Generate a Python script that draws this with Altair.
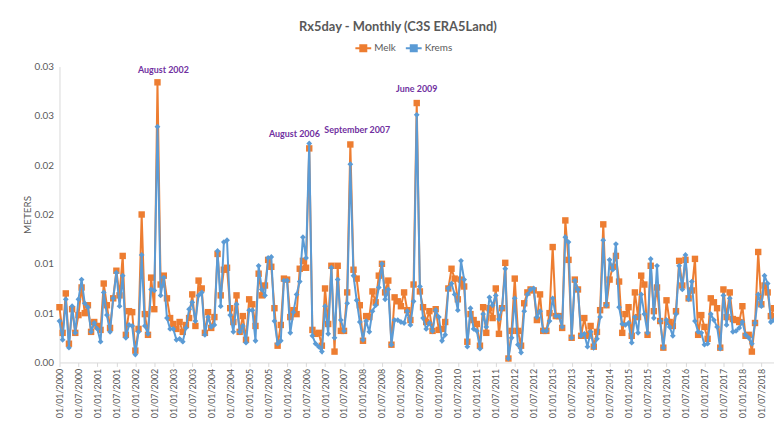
import json
import altair as alt
import pandas as pd

series_names = ["Melk", "Krems"]
series_colors = ["#ED7D31", "#5B9BD5"]
chart_title = "Rx5day - Monthly (C3S ERA5Land)"

melk = [
    0.0056, 0.0030, 0.0070, 0.0019, 0.0054, 0.0030, 0.0048, 0.0076, 0.0050, 0.0058, 0.0031, 0.0041,
    0.0037, 0.0033, 0.0080, 0.0058, 0.0035, 0.0065, 0.0093, 0.0068, 0.0108, 0.0028, 0.0052, 0.0051,
    0.0012, 0.0034, 0.0150, 0.0049, 0.0028, 0.0086, 0.0054, 0.0284, 0.0079, 0.0088, 0.0065, 0.0045,
    0.0039, 0.0034, 0.0041, 0.0031, 0.0038, 0.0045, 0.0069, 0.0037, 0.0083, 0.0075, 0.0030, 0.0051,
    0.0035, 0.0046, 0.0110, 0.0068, 0.0094, 0.0096, 0.0055, 0.0041, 0.0068, 0.0031, 0.0047, 0.0023,
    0.0064, 0.0059, 0.0037, 0.0090, 0.0068, 0.0078, 0.0104, 0.0097, 0.0055, 0.0017, 0.0038, 0.0085,
    0.0084, 0.0046, 0.0053, 0.0049, 0.0095, 0.0103, 0.0096, 0.0217, 0.0033, 0.0029, 0.0030, 0.0017,
    0.0075, 0.0039, 0.0098, 0.0011, 0.0098, 0.0032, 0.0032, 0.0071, 0.0221, 0.0094, 0.0085, 0.0058,
    0.0022, 0.0047, 0.0046, 0.0072, 0.0061, 0.0088, 0.0100, 0.0071, 0.0083, 0.0018, 0.0066, 0.0062,
    0.0057, 0.0071, 0.0053, 0.0043, 0.0079, 0.0263, 0.0072, 0.0056, 0.0041, 0.0052, 0.0032, 0.0054,
    0.0033, 0.0034, 0.0041, 0.0075, 0.0095, 0.0085, 0.0064, 0.0084, 0.0077, 0.0021, 0.0049, 0.0043,
    0.0039, 0.0017, 0.0056, 0.0030, 0.0055, 0.0045, 0.0075, 0.0029, 0.0055, 0.0101, 0.0004, 0.0032,
    0.0085, 0.0032, 0.0017, 0.0060, 0.0071, 0.0074, 0.0073, 0.0043, 0.0069, 0.0032, 0.0032, 0.0050,
    0.0117, 0.0047, 0.0047, 0.0035, 0.0144, 0.0104, 0.0025, 0.0084, 0.0074, 0.0027, 0.0045, 0.0027,
    0.0037, 0.0016, 0.0031, 0.0053, 0.0140, 0.0058, 0.0084, 0.0097, 0.0108, 0.0082, 0.0030, 0.0049,
    0.0056, 0.0027, 0.0071, 0.0046, 0.0088, 0.0079, 0.0028, 0.0098, 0.0052, 0.0076, 0.0042, 0.0015,
    0.0063, 0.0041, 0.0037, 0.0052, 0.0103, 0.0078, 0.0104, 0.0065, 0.0073, 0.0105, 0.0028, 0.0048,
    0.0036, 0.0024, 0.0065, 0.0061, 0.0055, 0.0015, 0.0074, 0.0046, 0.0071, 0.0044, 0.0043, 0.0041,
    0.0057, 0.0027, 0.0028, 0.0011, 0.0040, 0.0112, 0.0059, 0.0078, 0.0071, 0.0047, 0.0055,
]

krems = [
    0.0042, 0.0023, 0.0064, 0.0015, 0.0057, 0.0030, 0.0064, 0.0084, 0.0060, 0.0056, 0.0031, 0.0040,
    0.0034, 0.0021, 0.0071, 0.0048, 0.0031, 0.0065, 0.0091, 0.0057, 0.0088, 0.0025, 0.0038, 0.0037,
    0.0008, 0.0031, 0.0109, 0.0037, 0.0029, 0.0074, 0.0073, 0.0239, 0.0068, 0.0086, 0.0045, 0.0034,
    0.0034, 0.0023, 0.0024, 0.0021, 0.0035, 0.0054, 0.0061, 0.0042, 0.0068, 0.0071, 0.0028, 0.0046,
    0.0036, 0.0038, 0.0113, 0.0057, 0.0122, 0.0124, 0.0048, 0.0031, 0.0059, 0.0031, 0.0037, 0.0020,
    0.0053, 0.0053, 0.0022, 0.0098, 0.0074, 0.0068, 0.0106, 0.0107, 0.0042, 0.0019, 0.0022, 0.0083,
    0.0083, 0.0030, 0.0051, 0.0069, 0.0082, 0.0127, 0.0106, 0.0222, 0.0027, 0.0019, 0.0016, 0.0011,
    0.0057, 0.0029, 0.0096, 0.0025, 0.0084, 0.0043, 0.0032, 0.0060, 0.0201, 0.0088, 0.0063, 0.0041,
    0.0023, 0.0042, 0.0031, 0.0052, 0.0058, 0.0076, 0.0100, 0.0064, 0.0074, 0.0018, 0.0043, 0.0043,
    0.0041, 0.0040, 0.0052, 0.0038, 0.0062, 0.0251, 0.0077, 0.0045, 0.0034, 0.0040, 0.0032, 0.0053,
    0.0046, 0.0022, 0.0028, 0.0075, 0.0080, 0.0069, 0.0053, 0.0103, 0.0084, 0.0016, 0.0055, 0.0034,
    0.0032, 0.0014, 0.0049, 0.0036, 0.0066, 0.0058, 0.0068, 0.0044, 0.0055, 0.0095, 0.0004, 0.0025,
    0.0065, 0.0018, 0.0010, 0.0052, 0.0069, 0.0074, 0.0075, 0.0046, 0.0052, 0.0032, 0.0032, 0.0042,
    0.0065, 0.0047, 0.0047, 0.0036, 0.0127, 0.0122, 0.0025, 0.0083, 0.0074, 0.0027, 0.0029, 0.0016,
    0.0031, 0.0015, 0.0024, 0.0046, 0.0124, 0.0058, 0.0104, 0.0094, 0.0120, 0.0056, 0.0039, 0.0038,
    0.0040, 0.0020, 0.0046, 0.0030, 0.0069, 0.0049, 0.0030, 0.0105, 0.0045, 0.0098, 0.0042, 0.0015,
    0.0043, 0.0036, 0.0027, 0.0049, 0.0098, 0.0074, 0.0109, 0.0064, 0.0082, 0.0042, 0.0031, 0.0030,
    0.0018, 0.0019, 0.0049, 0.0043, 0.0036, 0.0014, 0.0068, 0.0038, 0.0065, 0.0031, 0.0032, 0.0035,
    0.0041, 0.0028, 0.0025, 0.0019, 0.0040, 0.0069, 0.0057, 0.0088, 0.0080, 0.0041, 0.0043,
]

months = list(pd.period_range("2000-01", periods=len(melk), freq="M").strftime("%m/%Y"))
x_tick_labels = [f"01/{m}/{y}" for y in range(2000, 2019) for m in ("01", "07")]
y_tick_labels = ["0.00", "0.01", "0.01", "0.02", "0.02", "0.03", "0.03"]

ann_labels = ["August 2002", "August 2006", "September 2007", "June 2009"]
ann_months = ["08/2002", "08/2006", "09/2007", "06/2009"]

rows = []
for name, vals in (("Melk", melk), ("Krems", krems)):
    for i, v in enumerate(vals):
        rows.append({"t": i, "month": months[i], "series": name, "value": v})
df = pd.DataFrame(rows)

FONT = "Lato"
GRAY = "#595959"
AXC = "#d9d9d9"

x_enc = alt.X(
    "t:Q",
    scale=alt.Scale(domain=[0, len(melk) - 1], nice=False, zero=False),
    axis=alt.Axis(
        title=None,
        values=list(range(0, 6 * len(x_tick_labels), 6)),
        tickCount=100,
        labelExpr=json.dumps(x_tick_labels) + "[round(datum.value/6)]",
        labelAngle=-90,
        labelFont=FONT, labelFontSize=9, labelColor=GRAY,
        tickSize=4, tickColor=AXC, domainColor=AXC, labelPadding=2,
        grid=False, labelOverlap=False, labelBound=False, labelFlush=False,
    ),
)
y_enc = alt.Y(
    "value:Q",
    scale=alt.Scale(domain=[0, 0.03], nice=False),
    axis=alt.Axis(
        title="METERS",
        values=[i * 0.005 for i in range(7)],
        labelExpr=json.dumps(y_tick_labels) + "[round(datum.value/0.005)]",
        labelFont=FONT, labelFontSize=10, labelColor=GRAY,
        titleFont=FONT, titleFontSize=10, titleColor=GRAY, titleFontWeight="normal",
        titlePadding=2, ticks=False, labelPadding=6,
        domainColor=AXC, grid=False,
    ),
)
color_enc = alt.Color(
    "series:N",
    scale=alt.Scale(domain=series_names, range=series_colors),
    legend=alt.Legend(
        title=None, orient="none", legendX=298, legendY=-28, direction="horizontal",
        symbolType="M-1,0H1M-0.38,-0.38H0.38V0.38H-0.38Z",
        symbolSize=256, symbolStrokeWidth=2,
        labelFont=FONT, labelFontSize=10, labelColor=GRAY,
        labelOffset=2, columnPadding=6,
    ),
)

base = alt.Chart(df).encode(x=x_enc, y=y_enc, color=color_enc)

layers = []
for name, shape, size in (("Melk", "square", 42), ("Krems", "diamond", 34)):
    sub = base.transform_filter(alt.datum.series == name)
    layers.append(sub.mark_line(strokeWidth=2))
    layers.append(sub.mark_point(shape=shape, filled=True, size=size, opacity=1))

ann_dx = [6, -15, 7, 0]
ann_dy = [-9, -7, -12, -11]
for lab, mon, dx, dy in zip(ann_labels, ann_months, ann_dx, ann_dy):
    t = months.index(mon)
    top = max(melk[t], krems[t])
    adf = pd.DataFrame({"t": [t], "value": [top], "label": [lab]})
    layers.append(
        alt.Chart(adf)
        .mark_text(font=FONT, fontSize=9, fontWeight="bold", color="#7030A0",
                   baseline="alphabetic", align="center", dx=dx, dy=dy)
        .encode(x="t:Q", y="value:Q", text="label:N")
    )

# chart title, drawn as a text mark in the top margin
layers.append(
    alt.Chart(pd.DataFrame({"title": [chart_title]}))
    .mark_text(font=FONT, fontSize=13, fontWeight="bold", color=GRAY,
               align="center", baseline="middle")
    .encode(text="title:N", x=alt.value(342), y=alt.value(-40))
)

chart = (
    alt.layer(*layers)
    .properties(
        width=722, height=299,
        autosize=alt.AutoSizeParams(type="none"),
        padding={"left": 52, "top": 57, "right": 0, "bottom": 56},
        background="white",
    )
    .configure_view(stroke=None)
)

chart.save("out.html", embed_options={"renderer": "svg", "actions": False})
